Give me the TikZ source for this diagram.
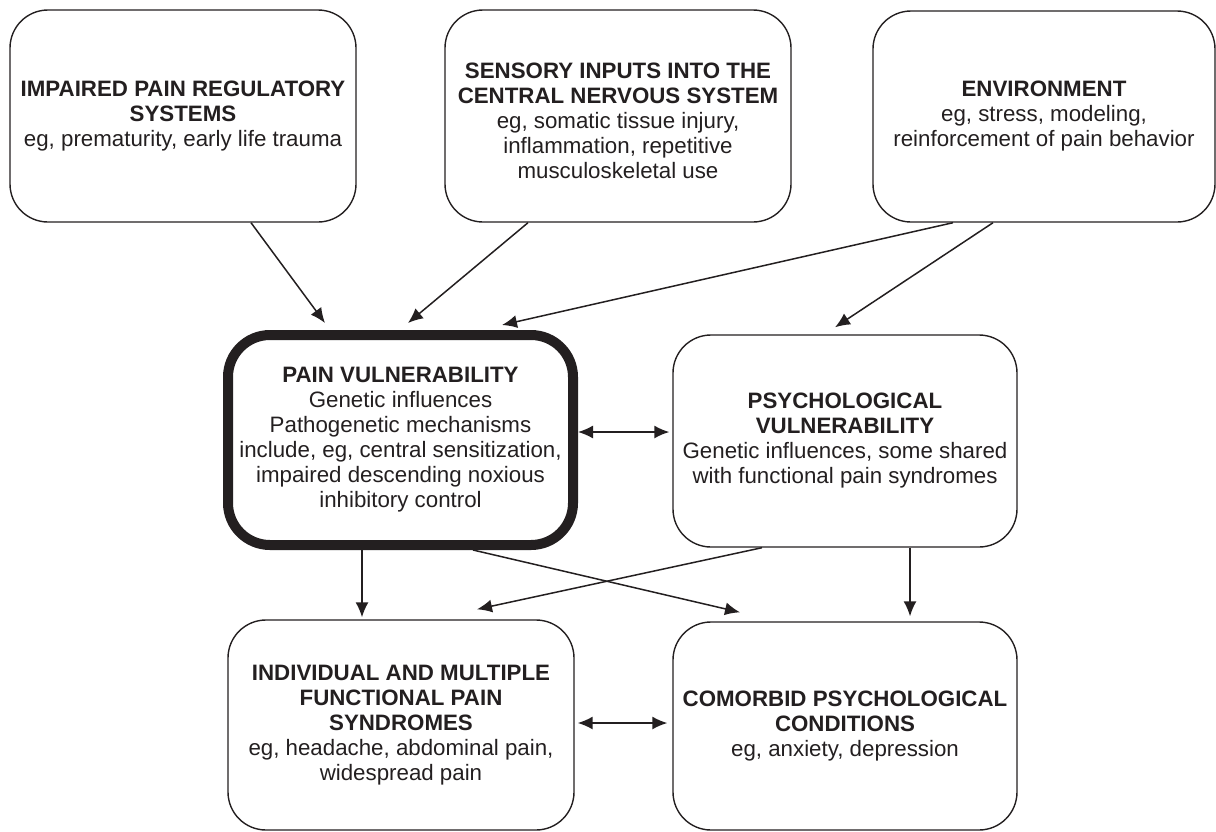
\documentclass[tikz,border=0pt]{standalone}
\usepackage{fontspec}
\setmainfont{Liberation Sans}
\usetikzlibrary{arrows.meta,calc}
\definecolor{ink}{RGB}{35,31,32}

\tikzset{
  box/.style={draw=ink, text=ink, line width=0.7pt, rounded corners=19pt,
    align=center, inner sep=0pt, font=\fontsize{11.15}{12.5}\selectfont},
  thickbox/.style={box, line width=5pt, rounded corners=21pt},
  link/.style={draw=ink, line width=0.75pt, -{Latex[length=7.5pt,width=6.5pt]}},
  twoway/.style={link, {Latex[length=7.5pt,width=6.5pt]}-{Latex[length=7.5pt,width=6.5pt]}}
}

\begin{document}
\begin{tikzpicture}[x=0.5pt,y=-0.5pt]
  \useasboundingbox (0,0) rectangle (1216,831);

  % top row: the three sources
  \node[box, minimum width=173pt, minimum height=106pt] (impaired) at (183,116)
    {\textbf{IMPAIRED PAIN REGULATORY}\\\textbf{SYSTEMS}\\eg, prematurity, early life trauma};
  \node[box, minimum width=173pt, minimum height=106pt] (sensory) at (618,116)
    {\mbox{}\\\textbf{SENSORY INPUTS INTO THE}\\\textbf{CENTRAL NERVOUS SYSTEM}\\eg, somatic tissue injury,\\inflammation, repetitive\\musculoskeletal use};
  \node[box, minimum width=171pt, minimum height=105.5pt] (environ) at (1044,116.5)
    {\textbf{ENVIRONMENT}\\eg, stress, modeling,\\reinforcement of pain behavior};

  % middle row
  \node[thickbox, minimum width=172.5pt, minimum height=105pt] (painvul) at (400.5,440)
    {\textbf{PAIN VULNERABILITY}\\Genetic influences\\Pathogenetic mechanisms\\include, eg, central sensitization,\\impaired descending noxious\\inhibitory control};
  \node[box, minimum width=172pt, minimum height=106pt] (psychvul) at (845,441)
    {\textbf{PSYCHOLOGICAL}\\\textbf{VULNERABILITY}\\Genetic influences, some shared\\with functional pain syndromes};

  % bottom row: outcomes
  \node[box, minimum width=173pt, minimum height=105pt] (syndromes) at (401,725)
    {\textbf{INDIVIDUAL AND MULTIPLE}\\\textbf{FUNCTIONAL PAIN}\\\textbf{SYNDROMES}\\eg, headache, abdominal pain,\\widespread pain};
  \node[box, minimum width=172pt, minimum height=104pt] (comorbid) at (845,726)
    {\textbf{COMORBID PSYCHOLOGICAL}\\\textbf{CONDITIONS}\\eg, anxiety, depression};

  % arrows into the middle row
  \draw[link] ($(impaired.south)+(68,0)$) -- ($(painvul.north)+(-75.5,-7)$);
  \draw[link] ($(sensory.south)+(-90,0)$) -- ($(painvul.north)+(7.5,-7)$);
  \draw[link] ($(environ.south)+(-91,0)$) -- ($(painvul.north)+(101.5,-5)$);
  \draw[link] ($(environ.south)+(-51,0)$) -- ($(psychvul.north)+(-10,-7)$);
  \draw[twoway] ($(painvul.east)+(0,-8)$) -- ($(psychvul.west)+(-3,-9)$);

  % arrows into the bottom row
  \draw[link] ($(painvul.south)+(-38.5,0)$) -- ($(syndromes.north)+(-39,-2)$);
  \draw[link] ($(painvul.south)+(72.5,0)$) -- ($(comorbid.north)+(-105,-9)$);
  \draw[link] ($(psychvul.south)+(-83,0)$) -- ($(syndromes.north)+(76,-10)$);
  \draw[link] ($(psychvul.south)+(65,0)$) -- ($(comorbid.north)+(65,-5)$);
  \draw[twoway] ($(syndromes.east)+(3,-2)$) -- ($(comorbid.west)+(-5,-3)$);
\end{tikzpicture}
\end{document}
